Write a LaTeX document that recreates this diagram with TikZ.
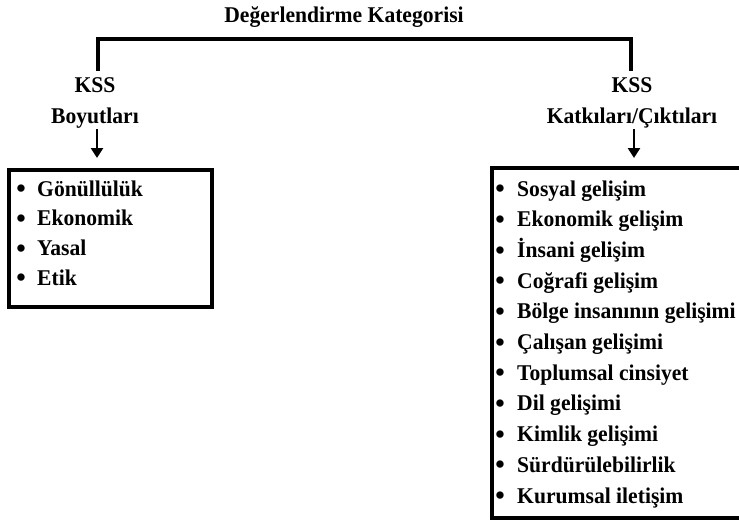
\documentclass[tikz,border=0pt]{standalone}
\usepackage{fontspec}
\usepackage{graphicx}
\setmainfont{Liberation Serif}
\usetikzlibrary{arrows.meta}
\newcommand{\narrow}[1]{\scalebox{0.96}[1]{#1}}
\newcommand{\bigdot}{\raisebox{-1.6pt}{\scalebox{1.2}{\textbullet}}}
\tikzset{
  heading/.style={font=\fontsize{22.5}{25}\selectfont\bfseries, anchor=base, inner sep=0pt},
  item/.style={font=\fontsize{22.5}{25}\selectfont\bfseries, anchor=base west, inner sep=0pt},
  dot/.style={font=\fontsize{22.5}{25}\selectfont\bfseries, anchor=base, inner sep=0pt},
  thickline/.style={line width=3.5pt},
  boxline/.style={line width=3.5pt},
  downarrow/.style={line width=2.6pt, -{Triangle[length=10pt,width=12pt]}}
}
\begin{document}
\begin{tikzpicture}[x=1pt,y=-1pt]
\useasboundingbox (0,0) rectangle (739,523);
% title
\node[heading] (title) at (344,22) {\narrow{Değerlendirme Kategorisi}};
% bracket
\coordinate (bl) at (98,71);
\coordinate (br) at (631,71);
\draw[thickline] (bl) |- (364,39) -| (br);
% column headings
\node[heading] (kssL) at (95,92) {\narrow{KSS}};
\node[heading] (boy) at (95,123) {\narrow{Boyutları}};
\node[heading] (kssR) at (632,92) {\narrow{KSS}};
\node[heading] (kat) at (632,123) {\narrow{Katkıları/Çıktıları}};
% arrows
\coordinate (aLs) at (97,129);
\coordinate (aLe) at (97,158);
\coordinate (aRs) at (634,129);
\coordinate (aRe) at (634,158);
\draw[downarrow] (aLs) -- (aLe);
\draw[downarrow] (aRs) -- (aRe);
% left box
\draw[boxline] (9,170) rectangle (212,307);
\foreach \t [count=\i from 0] in {Gönüllülük, Ekonomik, Yasal, Etik}{
  \node[dot] (ld\i) at (21,196+29.7*\i) {\bigdot};
  \node[item] (li\i) at (37,196+29.7*\i) {\narrow{\t}};
}
% right box
\draw[boxline] (492,168) rectangle (770,518);
\foreach \t [count=\i from 0] in {Sosyal gelişim, Ekonomik gelişim, İnsani gelişim, Coğrafi gelişim, Bölge insanının gelişimi, Çalışan gelişimi, Toplumsal cinsiyet, Dil gelişimi, Kimlik gelişimi, Sürdürülebilirlik, Kurumsal iletişim}{
  \node[dot] (rd\i) at (500,196+30.7*\i) {\bigdot};
  \node[item] (ri\i) at (517,196+30.7*\i) {\narrow{\t}};
}
\end{tikzpicture}
\end{document}
